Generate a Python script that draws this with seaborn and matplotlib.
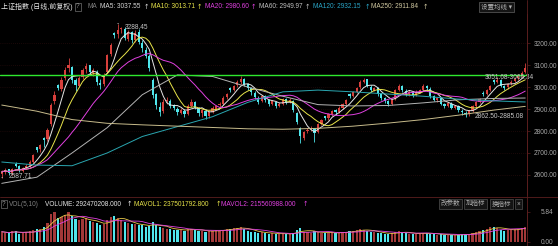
import numpy as np
import pandas as pd
import matplotlib
matplotlib.use("Agg")
import matplotlib.pyplot as plt
from matplotlib.lines import Line2D
import seaborn as sns

# daily candles (index points)
opens = [2606, 2612, 2625, 2607, 2650, 2640, 2620, 2634, 2642, 2660,
         2725, 2716, 2768, 2762, 2830, 2935, 3010, 2990, 3040, 3085,
         3090, 3030, 3005, 3045, 3080, 3098, 3065, 3070, 3020, 3012,
         3070, 3150, 3245, 3240, 3262, 3265, 3220, 3248, 3212, 3250,
         3200, 3170, 3140, 3030, 2970, 2910, 2890, 2935, 2938, 2918,
         2900, 2884, 2893, 2878, 2915, 2930, 2902, 2880, 2893, 2866,
         2888, 2902, 2916, 2925, 2955, 2995, 2988, 3008, 3025, 3038,
         3012, 2996, 2975, 2952, 2935, 2958, 2940, 2922, 2934, 2912,
         2925, 2944, 2930, 2935, 2880, 2815, 2770, 2798, 2808, 2812,
         2795, 2834, 2866, 2860, 2878, 2894, 2885, 2906, 2924, 2968,
         2960, 2978, 2998, 3025, 3035, 3002, 2984, 2994, 2966, 2948,
         2935, 2925, 2945, 2988, 3004, 2984, 2966, 2978, 2962, 2978,
         2988, 3004, 2993, 2957, 2940, 2948, 2922, 2912, 2925, 2904,
         2912, 2893, 2884, 2878, 2892, 2915, 2934, 2975, 2970, 2988,
         3030, 3025, 3030, 3003, 2998, 3016, 3028, 3040, 3052, 3070]
highs = [2622, 2630, 2628, 2633, 2660, 2645, 2638, 2650, 2666, 2695,
         2728, 2742, 2772, 2812, 2928, 2980, 3015, 3045, 3090, 3130,
         3095, 3040, 3050, 3085, 3110, 3102, 3088, 3078, 3035, 3062,
         3150, 3200, 3250, 3288.45, 3275, 3272, 3260, 3255, 3258, 3262,
         3215, 3180, 3148, 3040, 2975, 2930, 2945, 2955, 2945, 2925,
         2910, 2905, 2898, 2922, 2945, 2936, 2910, 2902, 2898, 2892,
         2912, 2920, 2930, 2958, 2975, 3000, 3010, 3030, 3048, 3042,
         3018, 3000, 2980, 2958, 2965, 2962, 2945, 2942, 2938, 2930,
         2952, 2948, 2948, 2940, 2885, 2818, 2800, 2812, 2822, 2815,
         2838, 2856, 2870, 2882, 2896, 2900, 2912, 2928, 2946, 2972,
         2982, 3000, 3030, 3042, 3038, 3008, 3002, 2998, 2972, 2955,
         2940, 2948, 2992, 3012, 3010, 2990, 2985, 2982, 2985, 2992,
         3012, 3010, 2998, 2962, 2956, 2952, 2928, 2932, 2930, 2920,
         2918, 2898, 2890, 2896, 2918, 2938, 2950, 2980, 2992, 3010,
         3035, 3045, 3035, 3010, 3020, 3032, 3045, 3058, 3075, 3108]
lows = [2587.71, 2605, 2600, 2602, 2636, 2615, 2614, 2628, 2638, 2655,
        2705, 2705, 2728, 2755, 2825, 2925, 2985, 2980, 3030, 3070,
        3020, 2980, 2998, 3035, 3065, 3055, 3050, 3010, 2990, 3005,
        3065, 3140, 3225, 3225, 3245, 3215, 3210, 3200, 3205, 3195,
        3160, 3130, 3075, 2950, 2900, 2870, 2882, 2925, 2905, 2895,
        2875, 2878, 2865, 2872, 2908, 2898, 2870, 2862, 2855, 2860,
        2880, 2898, 2905, 2918, 2945, 2978, 2980, 2998, 3015, 3005,
        2985, 2965, 2945, 2922, 2930, 2932, 2915, 2916, 2905, 2908,
        2920, 2925, 2926, 2888, 2832, 2745, 2758, 2790, 2798, 2752,
        2790, 2828, 2850, 2852, 2870, 2878, 2880, 2900, 2918, 2952,
        2954, 2972, 2992, 3018, 2998, 2978, 2980, 2960, 2942, 2928,
        2915, 2920, 2940, 2980, 2978, 2960, 2960, 2955, 2958, 2972,
        2982, 2988, 2950, 2935, 2934, 2918, 2905, 2908, 2898, 2898,
        2888, 2875, 2862.5, 2870, 2888, 2910, 2926, 2960, 2962, 2982,
        3015, 3018, 2998, 2988, 2992, 3010, 3022, 3034, 3045, 3062]
closes = [2614, 2623, 2609, 2627, 2641, 2623, 2632, 2641, 2659, 2690,
          2714, 2736, 2759, 2805, 2918, 2964, 2995, 3032, 3077, 3100,
          3032, 3009, 3041, 3077, 3095, 3068, 3077, 3023, 3009, 3055,
          3145, 3191, 3236, 3259, 3268, 3223, 3250, 3214, 3245, 3205,
          3177, 3141, 3086, 2964, 2918, 2886, 2932, 2941, 2914, 2905,
          2886, 2895, 2877, 2914, 2932, 2905, 2882, 2895, 2868, 2886,
          2905, 2914, 2923, 2950, 2968, 2986, 3005, 3023, 3036, 3014,
          2995, 2977, 2955, 2932, 2959, 2941, 2923, 2936, 2914, 2923,
          2945, 2932, 2941, 2895, 2841, 2777, 2795, 2805, 2814, 2791,
          2832, 2850, 2859, 2877, 2891, 2886, 2905, 2923, 2941, 2959,
          2977, 2995, 3023, 3032, 3005, 2986, 2995, 2968, 2950, 2936,
          2923, 2941, 2986, 3005, 2986, 2968, 2977, 2964, 2977, 2986,
          3005, 2995, 2959, 2941, 2950, 2923, 2914, 2927, 2905, 2914,
          2895, 2886, 2877, 2891, 2914, 2932, 2945, 2968, 2986, 3005,
          3023, 3032, 3005, 2995, 3014, 3025, 3038, 3050, 3062, 3085]
# volume, 1e8
volumes = [2.0, 1.8, 1.7, 2.1, 2.2, 1.6, 1.7, 1.9, 2.1, 2.3, 2.5, 2.6, 2.9,
           3.6, 5.5, 5.8, 4.6, 4.8, 5.2, 5.84,
           5.0, 4.4, 4.2, 4.5, 4.6, 4.0, 3.8, 3.6, 3.3, 3.5,
           4.2, 4.8, 5.0, 4.6, 4.3,
           3.8, 3.6, 3.5, 3.4, 3.2, 3.3, 3.0, 3.1,
           3.9, 3.2, 2.9, 2.7, 2.6, 2.5, 2.3,
           2.4, 2.3, 2.2, 2.5, 2.6, 2.3, 2.1, 2.2, 2.0, 2.1, 2.2, 2.3, 2.2,
           2.4, 2.6, 2.5, 2.7, 2.8, 2.9, 2.5, 2.2, 2.0, 1.9, 1.8,
           1.9, 1.7, 1.6, 1.7, 1.6, 1.5, 1.7, 1.6, 1.5, 1.8,
           2.4, 2.8, 2.0, 1.9, 1.8, 2.1,
           1.9, 1.8, 1.7, 1.8, 1.9, 1.7, 1.8, 1.9, 2.0, 2.1, 2.2, 2.3, 2.5, 2.4,
           2.2, 2.0, 1.9, 1.8, 1.7, 1.6, 1.5, 1.7, 2.0, 2.1, 1.9, 1.7, 1.6, 1.5,
           1.6, 1.7, 1.8, 1.7,
           1.6, 1.5, 1.4, 1.5, 1.4, 1.3, 1.4, 1.3, 1.4, 1.5, 1.6, 1.5,
           1.8, 2.0, 2.2, 2.4, 2.6, 2.9, 3.0, 2.8, 2.4, 2.2, 2.3, 2.4, 2.5,
           2.6, 2.8, 2.92]

# long moving averages
ma_idx = [0, 10, 20, 30, 40, 50, 60, 70, 80, 90, 100, 110, 120, 130, 140, 149]
ma60 = [2562, 2590, 2700, 2815, 2965, 3055, 3048, 3000, 2958, 2920,
        2914, 2916, 2928, 2942, 2948, 2950]
ma120 = [2659, 2645, 2642, 2700, 2775, 2820, 2865, 2930, 2978, 2986,
         2978, 2968, 2958, 2945, 2937, 2932]
ma250 = [2918, 2890, 2852, 2835, 2828, 2822, 2816, 2810, 2808, 2812,
         2822, 2836, 2852, 2872, 2895, 2912]

price_ticks = [2600, 2700, 2800, 2900, 3000, 3100, 3200]
green_level = 3054

RED = "#d8403c"
CYAN = "#50e6ec"
VRED = "#a23838"

sns.set_theme(style="dark", rc={"axes.facecolor": "black",
                                "figure.facecolor": "black",
                                "axes.edgecolor": "#5c1e1e"})
plt.rcParams["font.family"] = ["Liberation Sans", "Noto Sans CJK SC", "DejaVu Sans"]

df = pd.DataFrame({"open": opens, "high": highs, "low": lows,
                   "close": closes, "vol": volumes})
df["i"] = np.arange(len(df))
df["up"] = df["close"] >= df["open"]
df["ma5"] = df["close"].rolling(5, min_periods=1).mean()
df["ma10"] = df["close"].rolling(10, min_periods=1).mean()
df["ma20"] = df["close"].rolling(20, min_periods=1).mean()
df["mv5"] = df["vol"].rolling(5, min_periods=1).mean()
df["mv10"] = df["vol"].rolling(10, min_periods=1).mean()
n = len(df)

W, H = 558, 246
fig = plt.figure(figsize=(W / 100, H / 100), dpi=100)
ax = fig.add_axes([0, 1 - 195 / H, 527 / W, (195 - 14) / H])
axv = fig.add_axes([0, 1 - 242 / H, 527 / W, (242 - 210) / H])

# candles
cols = np.where(df["up"], RED, CYAN)
ax.vlines(df["i"], df["low"], df["high"], colors=cols, lw=0.6, zorder=3)
body = (df["close"] - df["open"]).abs().clip(lower=1.5)
ax.bar(df["i"], body, bottom=df[["open", "close"]].min(axis=1),
       width=0.62, color=cols, linewidth=0, zorder=4)

ax.axhline(green_level, color="#2ee82e", lw=1.0, zorder=6)

for col, c in [("ma5", "#e6e6e6"), ("ma10", "#e8e44a"), ("ma20", "#e040e0")]:
    sns.lineplot(x=df["i"], y=df[col], ax=ax, color=c, lw=0.7, zorder=5)
for vals, c in [(ma60, "#b4b4b4"), (ma120, "#2aa6b0"), (ma250, "#c8bc8c")]:
    sns.lineplot(x=ma_idx, y=vals, ax=ax, color=c, lw=0.7, zorder=5)

ax.set_xlim(-0.5, n - 0.5)
ax.set_ylim(2509, 3332)
ax.set_xticks([])
ax.yaxis.tick_right()
ax.set_yticks(price_ticks)
ax.set_yticklabels([f"{t:.2f}" for t in price_ticks])
ax.tick_params(axis="y", colors="#5c1e1e", labelcolor="#a8a8a8",
               labelsize=4.7, length=2, width=0.5, pad=3)
ax.grid(axis="y", color="#321010", lw=0.5, ls=(0, (1, 2)))
ax.set_xlabel("")
ax.set_ylabel("")
for s in ["top", "left", "bottom"]:
    ax.spines[s].set_visible(False)
ax.spines["right"].set_linewidth(0.6)

# price labels
lab = dict(color="#c8c8c8", fontsize=4.7, zorder=7)
ax.annotate("3288.45", xy=(33, 3288.45), xytext=(5, -3), textcoords="offset points",
            va="center", arrowprops=dict(arrowstyle="-", color="#c8c8c8", lw=0.5), **lab)
ax.annotate("2587.71", xy=(0, 2587.71), xytext=(5, 1), textcoords="offset points",
            va="center", arrowprops=dict(arrowstyle="-", color="#c8c8c8", lw=0.5), **lab)
ax.text(137.5, 3043, "3051.68-3066.34", va="center", **lab)
ax.text(134.5, 2866, "2862.50-2885.08", va="center", **lab)

# volume
vcols = np.where(df["up"], VRED, CYAN)
axv.bar(df["i"], df["vol"], width=0.62, color=vcols, linewidth=0, zorder=3)
sns.lineplot(x=df["i"], y=df["mv5"], ax=axv, color="#e8c84a", lw=0.6, zorder=4)
sns.lineplot(x=df["i"], y=df["mv10"], ax=axv, color="#e040e0", lw=0.6, zorder=4)
axv.set_xlim(-0.5, n - 0.5)
axv.set_ylim(0, 6.2)
axv.set_xticks([])
axv.yaxis.tick_right()
axv.set_yticks([0, 5.84])
axv.set_yticklabels(["0.00", "5.84"])
axv.tick_params(axis="y", colors="#5c1e1e", labelcolor="#a8a8a8",
                labelsize=4.7, length=2, width=0.5, pad=8)
axv.set_xlabel("")
axv.set_ylabel("")
axv.grid(False)
for s in ["top", "left", "bottom"]:
    axv.spines[s].set_visible(False)
axv.spines["right"].set_linewidth(0.6)

# frame lines
fig.add_artist(Line2D([527 / W, 527 / W], [0, 1], color="#5c1e1e", lw=0.6))
fig.add_artist(Line2D([0, 1], [1 - 197 / H] * 2, color="#5c1e1e", lw=0.6))


def ftext(x, y, s, c, size=4.7, **kw):
    fig.text(x / W, 1 - y / H, s, color=c, fontsize=size, va="center", ha="left", **kw)


box = dict(boxstyle="square,pad=0.15", fc="black", ec="#707070", lw=0.5)
# header
ftext(1, 7, "上证指数 (日线,前复权)", "#e8e8e8", size=5)
ftext(76, 7, "?", "#909090", bbox=box)
ftext(87, 7, "MA", "#808080")
for x, s, c in [(100, "MA5: 3037.55", "#d8d8d8"), (151, "MA10: 3013.71", "#e8e44a"),
                (205, "MA20: 2980.60", "#e040e0"), (259, "MA60: 2949.97", "#c0c0c0"),
                (313, "MA120: 2932.15", "#2aa6c8"), (371, "MA250: 2911.84", "#d0c8a0")]:
    ftext(x, 7, s, c)
for x, c in [(144, "#d8d8d8"), (197, "#e8e44a"), (251, "#e040e0"),
             (305, "#c0c0c0"), (365, "#2aa6c8"), (423, "#d0c8a0")]:
    ftext(x, 7, "↑", c, family="DejaVu Sans")
ftext(481, 7, "设置均线 ▾", "#b0b0b0",
      bbox=dict(boxstyle="square,pad=0.3", fc="#141414", ec="#606060", lw=0.5))

# volume header
ftext(2, 204, "?", "#909090", bbox=box)
ftext(9, 204, "VOL(5,10)", "#808080")
ftext(45, 204, "VOLUME: 292470208.000", "#e8e8e8")
ftext(134, 204, "MAVOL1: 237501792.800", "#e8e44a")
ftext(221, 204, "MAVOL2: 215560988.000", "#e040e0")
for x, c in [(127, "#e8e8e8"), (216, "#e8e44a"), (303, "#e040e0")]:
    ftext(x, 204, "↑", c, family="DejaVu Sans")
bbox2 = dict(boxstyle="square,pad=0.25", fc="#141414", ec="#505050", lw=0.5)
ftext(441, 204, "改参数", "#b0b0b0", bbox=bbox2)
ftext(466, 204, "加指标", "#b0b0b0", bbox=bbox2)
ftext(492, 204, "换指标", "#b0b0b0", bbox=bbox2)
ftext(517, 204, "×", "#b0b0b0", bbox=bbox2)

plt.savefig("out.png", dpi=100, facecolor="black")
